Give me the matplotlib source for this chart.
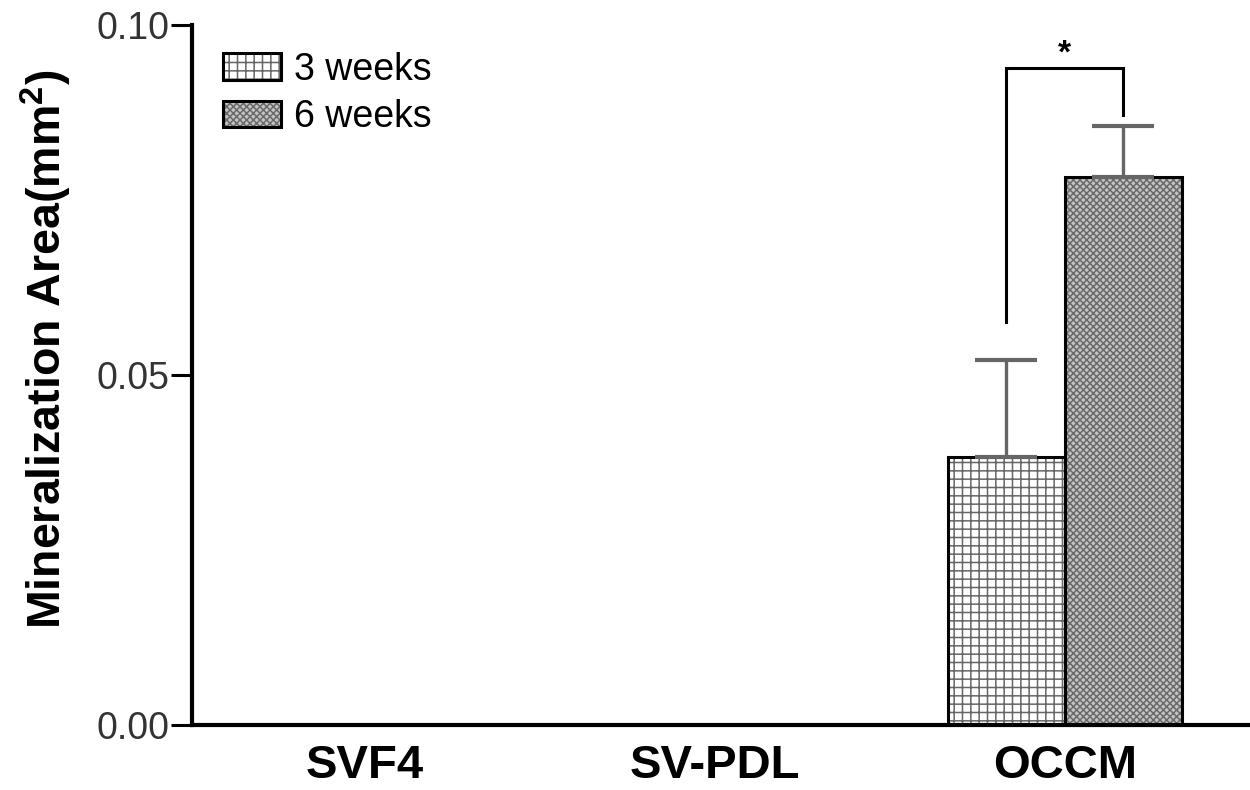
import matplotlib
matplotlib.use("Agg")
import matplotlib.pyplot as plt
from matplotlib.patches import Patch
from matplotlib.legend_handler import HandlerTuple

plt.rcParams['font.family'] = ['Liberation Sans', 'DejaVu Sans']
plt.rcParams['hatch.linewidth'] = 1.1
plt.rcParams['mathtext.fontset'] = 'custom'
plt.rcParams['mathtext.bf'] = 'Liberation Sans:bold'

groups = ['SVF4', 'SV-PDL', 'OCCM']
series = ['3 weeks', '6 weeks']
mean_3w = [0.0, 0.0, 0.0383]
sem_3w = [0.0, 0.0, 0.0138]
mean_6w = [0.0, 0.0, 0.0783]
sem_6w = [0.0, 0.0, 0.0073]
yticks = [0.00, 0.05, 0.10]
ytick_labels = ['0.00', '0.05', '0.10']

# significance bracket between OCCM 3w and 6w
brk_top = 0.0939
brk_left = 0.0576
brk_right = 0.0871

w = 0.335
x = list(range(len(groups)))
x3 = [i - w / 2 for i in x]
x6 = [i + w / 2 for i in x]

fig = plt.figure(figsize=(12.5, 7.9), dpi=100)
ax = fig.add_axes([0.1536, 0.0823, 0.8464, 0.8861])

c3_face, c3_hatch = 'white', '#666666'
c6_face, c6_hatch = '#c4c4c4', '#6a6a6a'
# bars: hatch layer then black outline
ax.bar(x3, mean_3w, w, color=c3_face, edgecolor=c3_hatch, hatch='++', linewidth=0)
ax.bar(x6, mean_6w, w, color=c6_face, edgecolor=c6_hatch, hatch='xxxxx', linewidth=0)
ax.bar(x3, mean_3w, w, fill=False, edgecolor='black', linewidth=2.2)
ax.bar(x6, mean_6w, w, fill=False, edgecolor='black', linewidth=2.2)

for xs, m, s in [(x3, mean_3w, sem_3w), (x6, mean_6w, sem_6w)]:
    for xi, mi, si in zip(xs, m, s):
        if mi > 0:
            ax.errorbar(xi, mi, yerr=[[0], [si]], fmt='none', ecolor='#666666',
                        elinewidth=2.4, capsize=22, capthick=3)

xl = x3[2]
xr = x6[2]
ax.plot([xl, xl, xr, xr], [brk_left, brk_top, brk_top, brk_right], color='black',
        linewidth=2.2, solid_joinstyle='miter')
ax.text((xl + xr) / 2, brk_top + 0.0019, '*', ha='center', va='center', fontsize=24,
        fontweight='bold')

ax.set_xlim(-0.494, 2.529)
ax.set_ylim(0, 0.10)
ax.set_yticks(yticks)
ax.set_yticklabels(ytick_labels, fontsize=27, color='#333333')
ax.set_xticks(x)
ax.set_xticklabels(groups, fontsize=34, fontweight='bold')
ax.tick_params(axis='x', length=0, pad=14)
ax.tick_params(axis='y', length=15, width=2.2, pad=1)
ax.set_ylabel('Mineralization Area(mm$^\\mathbf{2}$)', fontsize=33.5, fontweight='bold')
ax.yaxis.set_label_coords(-0.112, 0.536)

for sp in ['top', 'right']:
    ax.spines[sp].set_visible(False)
for sp in ['left', 'bottom']:
    ax.spines[sp].set_linewidth(3)

h3 = (Patch(facecolor=c3_face, edgecolor=c3_hatch, hatch='++', linewidth=0),
      Patch(fill=False, edgecolor='black', linewidth=2.2))
h6 = (Patch(facecolor=c6_face, edgecolor=c6_hatch, hatch='xxxxx', linewidth=0),
      Patch(fill=False, edgecolor='black', linewidth=2.2))
ax.legend([h3, h6], series, handler_map={tuple: HandlerTuple(ndivide=1)},
          loc='upper left', bbox_to_anchor=(0.029, 0.962), frameon=False, fontsize=27,
          handlelength=1.55, handleheight=0.7, handletextpad=0.35, labelspacing=0.3,
          borderaxespad=0, borderpad=0)

fig.savefig('out.png', dpi=100)
